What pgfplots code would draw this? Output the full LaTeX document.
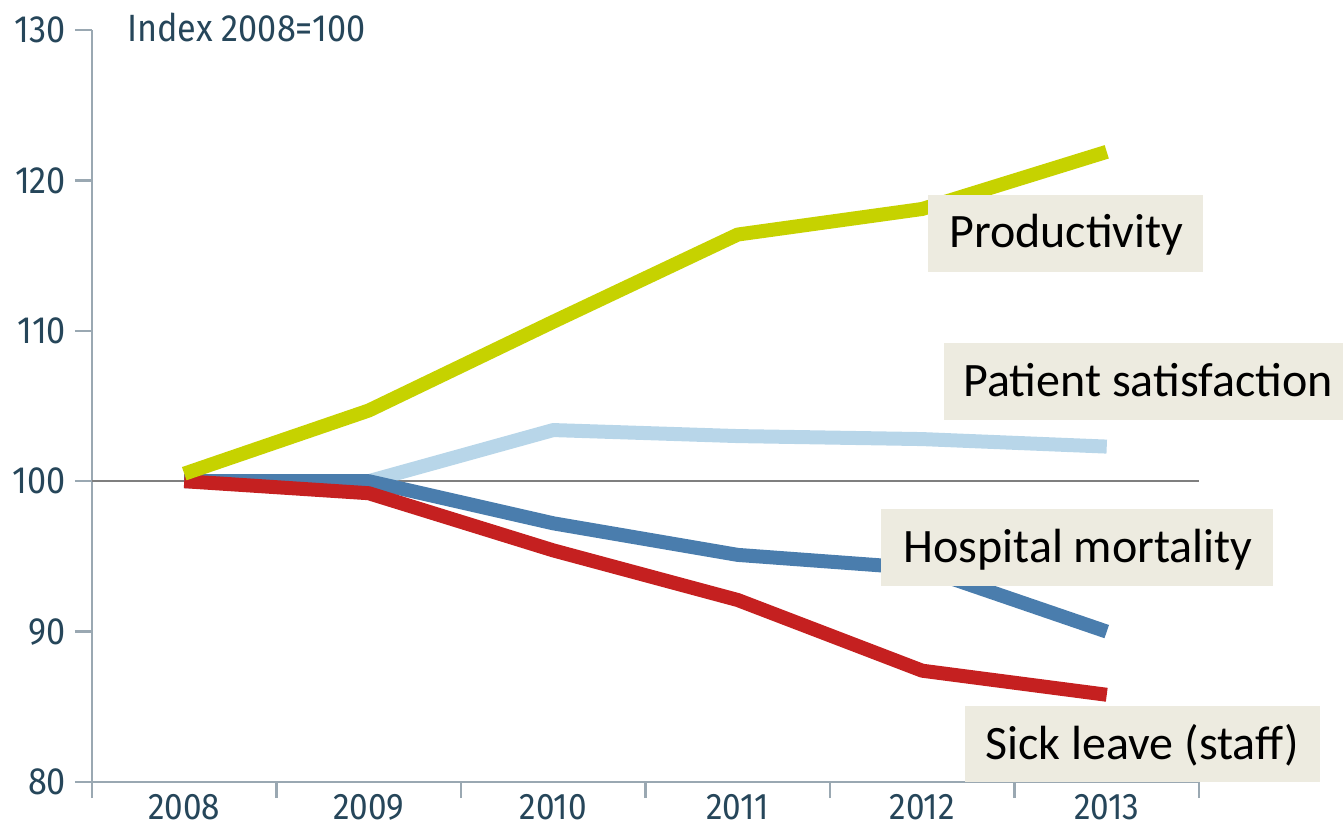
\documentclass[border=0pt]{standalone}
\usepackage{fontspec}
\setmainfont{Carlito}
\newfontfamily\tickfont[FakeStretch=0.9]{Fira Sans}
\usepackage{pgfplots}
\pgfplotsset{compat=1.18}
\definecolor{prodgreen}{HTML}{C6D200}
\definecolor{satblue}{HTML}{B8D6E9}
\definecolor{mortblue}{HTML}{4A7DAD}
\definecolor{sickred}{HTML}{C52020}
\definecolor{boxbeige}{HTML}{EDEBE0}
\definecolor{tickblue}{HTML}{26465A}
\definecolor{axisgray}{HTML}{9AA8B2}
\definecolor{refgray}{HTML}{7F7F7F}
\begin{document}
\begin{tikzpicture}
\useasboundingbox (-46pt,-23.5pt) rectangle (625.5pt,391pt);
\begin{axis}[
  at={(0pt,0pt)}, anchor=south west,
  width=553.5pt, height=376pt, scale only axis,
  xmin=-0.5, xmax=5.5, ymin=80, ymax=130,
  axis lines*=left,
  xtick={0,1,2,3,4,5},
  xticklabels={2008,2009,2010,2011,2012,2013},
  major x tick style={draw=none},
  minor xtick={-0.5,0.5,1.5,2.5,3.5,4.5,5.5},
  minor tick length=8pt,
  ytick={80,90,100,110,120,130},
  major tick length=8.5pt,
  tick align=outside,
  axis line style={color=axisgray, line width=1.2pt},
  every tick/.style={axisgray, line width=1.2pt},
  tick label style={font=\tickfont\fontsize{19}{22}\selectfont, text=tickblue},
  yticklabel style={xshift=-1pt},
  xticklabel style={font=\tickfont\fontsize{18.5}{20}\selectfont, inner sep=0pt, text depth=0pt, anchor=north, yshift=2.5pt},
  /pgf/number format/assume math mode=true,
  clip=false,
]
\addplot[refgray, line width=0.8pt] coordinates {(-0.5,100) (5.5,100)};
\addplot[satblue, line width=7pt, line join=round] coordinates {
  (0,100) (1,100) (2,103.4) (3,103.0) (4,102.8) (5,102.3)};
\addplot[mortblue, line width=7pt, line join=round] coordinates {
  (0,100) (1,100) (2,97.2) (3,95.1) (4,94.2) (5,90.0)};
\addplot[sickred, line width=7pt, line join=round] coordinates {
  (0,100) (1,99.2) (2,95.4) (3,92.1) (4,87.4) (5,85.8)};
\addplot[prodgreen, line width=7pt, line join=round] coordinates {
  (0,100.5) (1,104.7) (2,110.6) (3,116.4) (4,118.1) (5,121.9)};
\end{axis}
\node[anchor=base west, inner sep=0pt, font=\tickfont\fontsize{19}{22}\selectfont, text=tickblue] at (17.5pt,370pt) {Index 2008=100};
\fill[boxbeige] (418pt,255pt) rectangle (555.5pt,293.5pt);
\node[anchor=base west, inner sep=0pt, font=\fontsize{24}{28}\selectfont] at (428.5pt,267pt) {Productivity};
\fill[boxbeige] (426pt,181pt) rectangle (625.5pt,219.5pt);
\node[anchor=base west, inner sep=0pt, font=\fontsize{24}{28}\selectfont] at (435.5pt,192.5pt) {Patient satisfaction};
\fill[boxbeige] (394.5pt,98pt) rectangle (590.5pt,136.5pt);
\node[anchor=base west, inner sep=0pt, font=\fontsize{24}{28}\selectfont] at (405.5pt,109.5pt) {Hospital mortality};
\fill[boxbeige] (436.5pt,0pt) rectangle (614pt,38pt);
\node[anchor=base west, inner sep=0pt, font=\fontsize{24}{28}\selectfont] at (446.5pt,11pt) {Sick leave (staff)};
\end{tikzpicture}
\end{document}
